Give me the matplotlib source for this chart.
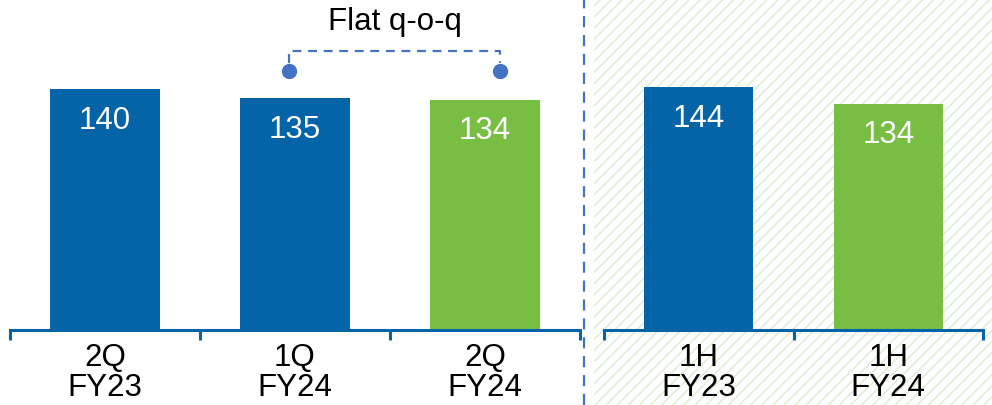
import matplotlib
matplotlib.use("Agg")
import matplotlib.pyplot as plt
from matplotlib.patches import Rectangle
from matplotlib.lines import Line2D

plt.rcParams['font.family'] = ['Liberation Sans', 'DejaVu Sans']
plt.rcParams['hatch.linewidth'] = 1.1

# Data
q_labels = ["2Q\nFY23", "1Q\nFY24", "2Q\nFY24"]
q_values = [140, 135, 134]
q_colors = ["#0563A8", "#0563A8", "#77BE43"]
h_labels = ["1H\nFY23", "1H\nFY24"]
h_values = [144, 134]
h_colors = ["#0563A8", "#77BE43"]
annotation_text = "Flat q-o-q"

BLUE_AX = "#0563A8"
DASH = "#4472C4"
W, H = 992, 405
fig = plt.figure(figsize=(W / 100, H / 100), dpi=100)

# hatched background for the half-year section
bg = Rectangle((594 / W, 0), 1 - 594 / W, 1, transform=fig.transFigure,
               facecolor="white", edgecolor="#DDEDD2", hatch="///",
               linewidth=0, zorder=-5)
fig.patches.append(bg)

# divider
fig.add_artist(Line2D([584 / W, 584 / W], [0, 1], transform=fig.transFigure,
                      color=DASH, linestyle=(0, (5, 3.5)), linewidth=1.6,
                      zorder=-4))

base = (H - 330) / H


def setup(ax, labels, values, colors, top):
    ax.set_facecolor("none")
    x = list(range(len(values)))
    bars = ax.bar(x, values, width=0.575, color=colors, zorder=2)
    ax.set_xlim(-0.5, len(values) - 0.5)
    ax.set_ylim(0, top)
    for s in ["top", "left", "right"]:
        ax.spines[s].set_visible(False)
    ax.spines["bottom"].set_color(BLUE_AX)
    ax.spines["bottom"].set_linewidth(2.2)
    ax.set_yticks([])
    ax.set_xticks([i - 0.5 for i in range(len(values) + 1)])
    ax.set_xticklabels([])
    ax.tick_params(axis="x", which="major", length=7, width=2.2,
                   color=BLUE_AX, direction="out")
    ax.set_xticks(x, minor=True)
    ax.set_xticklabels(labels, minor=True, fontsize=22.5, linespacing=1.0)
    ax.tick_params(axis="x", which="minor", length=0, pad=9)
    for b, v in zip(bars, values):
        ax.annotate(str(v), (b.get_x() + b.get_width() / 2, v),
                    xytext=(0, -23), textcoords="offset points",
                    ha="center", va="center", color="white", fontsize=22.5)
    return ax


ax1 = fig.add_axes([10 / W, base, 570 / W, 1 - base])
setup(ax1, q_labels, q_values, q_colors, 330 / 1.72)
ax2 = fig.add_axes([604 / W, base, 379 / W, 1 - base])
setup(ax2, h_labels, h_values, h_colors, 330 / 1.69)

# bracket annotation between 1Q FY24 and 2Q FY24
xa, xb = 1 - 0.03, 2 + 0.08
y_dot, y_line, y_txt = 150.5, 162.2, 179
ax1.plot([xa, xa, xb, xb], [y_dot + 5, y_line, y_line, y_dot + 5],
         color=DASH, linestyle=(0, (4, 3)), linewidth=1.6, clip_on=False)
ax1.plot([xa, xb], [y_dot, y_dot], linestyle="none", marker="o",
         markersize=10, color=DASH, clip_on=False)
ax1.text((xa + xb) / 2, y_txt, annotation_text, ha="center", va="center",
         fontsize=22.5)

fig.savefig("out.png", dpi=100)
